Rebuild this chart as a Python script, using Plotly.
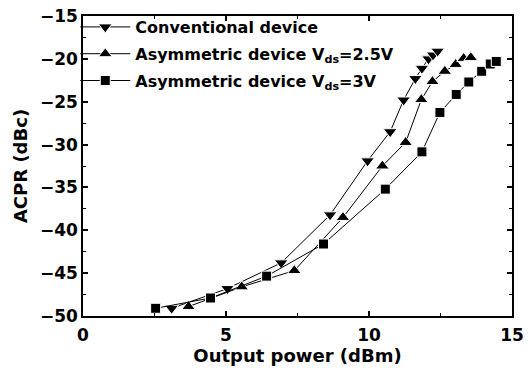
import plotly.graph_objects as go

# ACPR versus output power for three devices
conv_x = [3.10, 5.05, 6.93, 8.64, 9.95, 10.74, 11.21, 11.62, 11.85, 12.08, 12.24, 12.40]
conv_y = [-49.1, -46.8, -43.8, -38.2, -31.9, -28.5, -24.8, -22.3, -21.1, -20.0, -19.55, -19.1]

asym25_x = [3.69, 5.55, 7.39, 9.09, 10.47, 11.28, 11.83, 12.22, 12.65, 13.03, 13.31, 13.56]
asym25_y = [-48.9, -46.6, -44.7, -38.5, -32.5, -29.75, -24.75, -22.65, -21.45, -20.65, -19.95, -19.85]

asym3_x = [2.54, 4.46, 6.42, 8.41, 10.57, 11.85, 12.48, 13.05, 13.49, 13.94, 14.24, 14.45]
asym3_y = [-49.1, -47.9, -45.35, -41.6, -35.2, -30.85, -26.25, -24.15, -22.7, -21.45, -20.6, -20.3]

names = [
    "Conventional device",
    "Asymmetric device V<sub>ds</sub>=2.5V",
    "Asymmetric device V<sub>ds</sub>=3V",
]

FONT = "DejaVu Sans"

fig = go.Figure()
series = [
    (conv_x, conv_y, "triangle-down", 12),
    (asym25_x, asym25_y, "triangle-up", 12),
    (asym3_x, asym3_y, "square", 10),
]
for i, ((xs, ys, sym, sz), name) in enumerate(zip(series, names)):
    fig.add_trace(go.Scatter(
        x=xs, y=ys, name=name, mode="lines+markers", legendgroup=f"g{i}",
        line=dict(color="black", width=1),
        marker=dict(symbol=sym, size=sz, color="black",
                    line=dict(color="white", width=1)),
    ))

axis_common = dict(
    automargin=False,
    showline=True, linecolor="black", linewidth=1.5, mirror="ticks",
    ticks="inside", ticklen=5, tickwidth=1.5, tickcolor="black",
    showgrid=False, zeroline=False,
    tickfont=dict(family=FONT, size=17, color="black", weight="bold"),
)

fig.update_xaxes(
    range=[0, 15], tick0=0, dtick=5, ticklabelstandoff=3,
    minor=dict(ticks="inside", dtick=2.5, ticklen=3, tickwidth=1.2, tickcolor="black"),
    title=dict(text="Output power (dBm)", standoff=4,
               font=dict(family=FONT, size=18, color="black", weight="bold")),
    **axis_common,
)
fig.update_yaxes(
    range=[-50, -15], tick0=-50, dtick=5,
    minor=dict(ticks="inside", dtick=2.5, ticklen=3, tickwidth=1.2, tickcolor="black"),
    title=dict(text="ACPR (dBc)", standoff=8,
               font=dict(family=FONT, size=18, color="black", weight="bold")),
    **axis_common,
)

fig.update_layout(
    width=528, height=373,
    margin=dict(l=83, r=16, t=16, b=57, autoexpand=False),
    paper_bgcolor="white", plot_bgcolor="white",
    showlegend=True,
    legend=dict(
        x=-0.018, y=1.02, xanchor="left", yanchor="top",
        bgcolor="rgba(0,0,0,0)", borderwidth=0,
        itemwidth=50,
        font=dict(family=FONT, size=16, color="black", weight="bold"),
        tracegroupgap=3,
    ),
)

fig.write_html("out.html")
